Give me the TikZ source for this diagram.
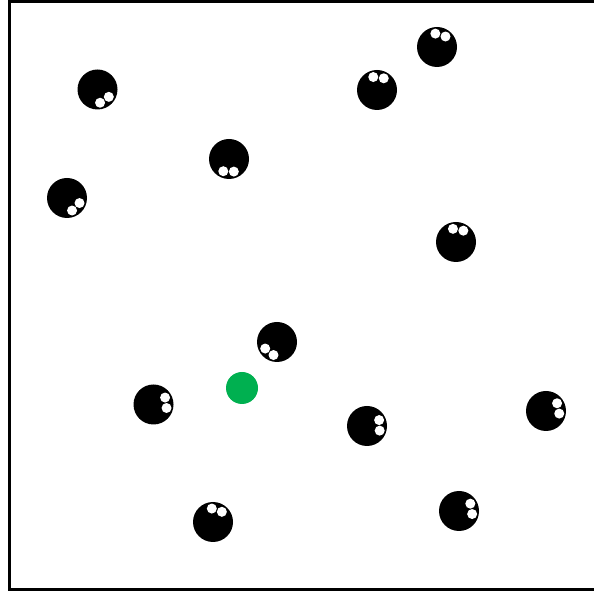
\documentclass[tikz,border=0pt]{standalone}
\usepackage{xcolor}
\usepackage{tikz}
\definecolor{foodgreen}{RGB}{0,176,80}
\tikzset{
bug/.style={circle, fill=black, minimum size=40pt, inner sep=0pt},
eye/.style={circle, fill=white, minimum size=10pt, inner sep=0pt},
food/.style={circle, fill=foodgreen, minimum size=32pt, inner sep=0pt},
wall/.style={line width=3pt}
}

\begin{document}
\begin{tikzpicture}[x=1pt,y=1pt]
\useasboundingbox (0,0) rectangle (594,594);
% arena
\draw[wall] (600,592.5) -- (9.5,592.5) -- (9.5,4.5) -- (600,4.5);
% food
\node[food](food) at (242,206){};
% bugs: name/x/y/heading
\foreach \n/\x/\y/\a in {1/97.5/504.5/-56, 2/437/547/74, 3/377/504/83,
4/229/435/-92, 5/67/396/-45, 6/456/352/80, 7/277/252/232,
8/153.5/189.5/8, 9/367/168/3, 10/546/183/12, 11/213/72/72, 12/459/83/10}{
\node[bug](b\n) at (\x,\y){};
\node[eye](eyeL\n) at ([shift={(\a+23:13.5)}]b\n.center){};
\node[eye](eyeR\n) at ([shift={(\a-23:13.5)}]b\n.center){};
}
\end{tikzpicture}
\end{document}
